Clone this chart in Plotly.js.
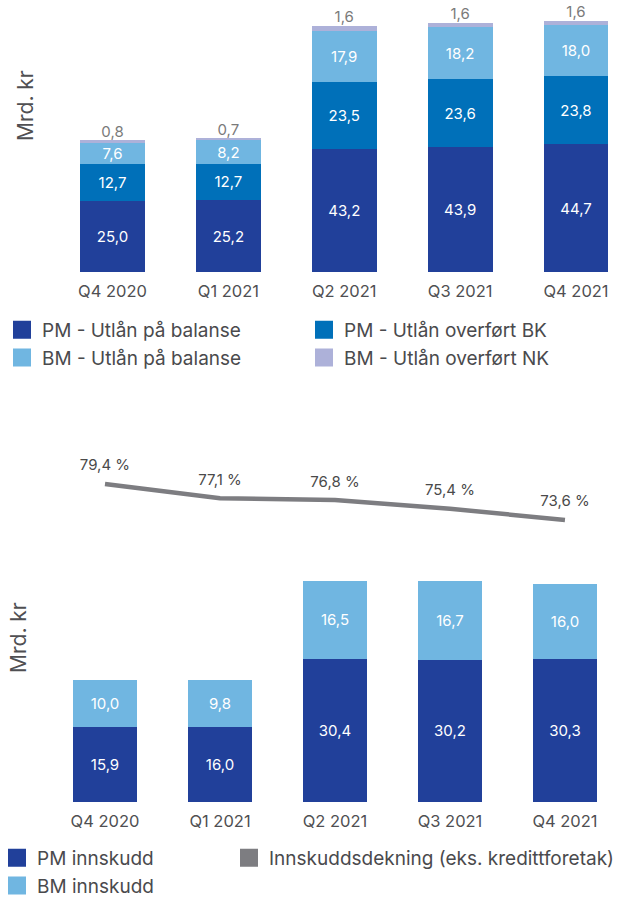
<!DOCTYPE html>
<html>
<head>
<meta charset="utf-8">
<script src="https://cdn.plot.ly/plotly-3.0.1.min.js"></script>
<style>
  html, body { margin: 0; padding: 0; background: #fff; }
  #myDiv { width: 625px; height: 897px; }
</style>
</head>
<body>
<div id="myDiv"></div>
<script>
var quarters = ["Q4 2020", "Q1 2021", "Q2 2021", "Q3 2021", "Q4 2021"];

// utlån (mrd. kr)
var pmBalanse = [25.0, 25.2, 43.2, 43.9, 44.7];
var pmOverfortBK = [12.7, 12.7, 23.5, 23.6, 23.8];
var bmBalanse = [7.6, 8.2, 17.9, 18.2, 18.0];
var bmOverfortNK = [0.8, 0.7, 1.6, 1.6, 1.6];

// innskudd (mrd. kr)
var pmInnskudd = [15.9, 16.0, 30.4, 30.2, 30.3];
var bmInnskudd = [10.0, 9.8, 16.5, 16.7, 16.0];

// innskuddsdekning (%)
var dekning = [79.4, 77.1, 76.8, 75.4, 73.6];

var cDark = "#21409a", cMid = "#0070b9", cLight = "#70b6e1", cLav = "#adb1d9", cGrey = "#7d7d81";
var fontFam = "Inter, 'Open Sans', sans-serif";

var fmt = function(v) { return v.toFixed(1).replace(".", ","); };

var barTrace = function(vals, name, color, xa, ya, pos) {
  return {
    type: "bar", x: quarters, y: vals, name: name,
    xaxis: xa, yaxis: ya,
    marker: {color: color},
    text: vals.map(fmt),
    textposition: pos,
    insidetextanchor: "middle",
    constraintext: "none",
    textfont: {family: fontFam, size: 15, color: "#fff"},
    showlegend: false,
    hoverinfo: "skip"
  };
};

// stack tops for the small NK labels
var utlanTotal = quarters.map(function(q, i) {
  return pmBalanse[i] + pmOverfortBK[i] + bmBalanse[i] + bmOverfortNK[i];
});

// legend proxies (bigger squares than bar legend symbols)
var legendItem = function(name, color, legend) {
  return {
    type: "scatter", mode: "markers", x: [null], y: [null], name: name,
    legend: legend, xaxis: "x", yaxis: "y",
    marker: {symbol: "square", size: 16, color: color, line: {color: color, width: 2}}
  };
};

var data = [
  barTrace(pmBalanse, "PM - Utlån på balanse", cDark, "x", "y", "inside"),
  barTrace(pmOverfortBK, "PM - Utlån overført BK", cMid, "x", "y", "inside"),
  barTrace(bmBalanse, "BM - Utlån på balanse", cLight, "x", "y", "inside"),
  barTrace(bmOverfortNK, "BM - Utlån overført NK", cLav, "x", "y", "none"),
  {
    type: "scatter", mode: "text", x: quarters, y: utlanTotal,
    xaxis: "x", yaxis: "y",
    text: bmOverfortNK.map(fmt),
    textposition: "top center",
    marker: {size: 1},
    textfont: {family: fontFam, size: 15, color: "#7a7a7a"},
    cliponaxis: false, showlegend: false, hoverinfo: "skip"
  },
  barTrace(pmInnskudd, "PM innskudd", cDark, "x2", "y2", "inside"),
  barTrace(bmInnskudd, "BM innskudd", cLight, "x2", "y2", "inside"),
  {
    type: "scatter", mode: "lines+markers+text", x: quarters, y: dekning,
    xaxis: "x2", yaxis: "y3",
    line: {color: cGrey, width: 4.5},
    marker: {size: 14, color: "rgba(0,0,0,0)"},
    text: dekning.map(function(v) { return fmt(v) + " %"; }),
    textposition: "top center",
    textfont: {family: fontFam, size: 15, color: "#4a4a4a"},
    cliponaxis: false,
    showlegend: false,
    hoverinfo: "skip"
  },
  legendItem("PM - Utlån på balanse", cDark, "legend"),
  legendItem("PM - Utlån overført BK", cMid, "legend"),
  legendItem("BM - Utlån på balanse", cLight, "legend"),
  legendItem("BM - Utlån overført NK", cLav, "legend"),
  legendItem("PM innskudd", cDark, "legend2"),
  legendItem("BM innskudd", cLight, "legend2"),
  legendItem("Innskuddsdekning (eks. kredittforetak)", cGrey, "legend3")
];

var H = 897;
var py = function(px) { return 1 - px / H; };

var xCommon = {
  type: "category", showgrid: false, zeroline: false, showline: false,
  ticks: "", ticklabelstandoff: 7,
  tickfont: {family: fontFam, size: 16.5, color: "#4f4f52"}
};
var yHidden = {
  showgrid: false, zeroline: false, showline: false, showticklabels: false, ticks: ""
};

var legendFont = {family: fontFam, size: 19, color: "#4a4a4d"};
var titleFont = {family: fontFam, size: 21, color: "#4f4f52"};

var layout = {
  width: 625, height: 897,
  margin: {l: 0, r: 0, t: 0, b: 0, autoexpand: false},
  paper_bgcolor: "#fff", plot_bgcolor: "#fff",
  barmode: "stack", bargap: 0.44,
  font: {family: fontFam, color: "#4a4a4a"},
  xaxis: Object.assign({}, xCommon, {domain: [0, 1], range: [-0.971, 4.423], anchor: "y"}),
  yaxis: Object.assign({}, yHidden, {domain: [py(272), 1], range: [0, 95.3], anchor: "x"}),
  xaxis2: Object.assign({}, xCommon, {domain: [0, 1], range: [-0.913, 4.522], anchor: "y2"}),
  yaxis2: Object.assign({}, yHidden, {domain: [py(802), py(560)], range: [0, 51.3], anchor: "x2"}),
  yaxis3: Object.assign({}, yHidden, {domain: [py(540), py(450)], range: [70.36, 84.88], anchor: "x2"}),
  legend: {
    orientation: "h", traceorder: "normal",
    x: 2 / 625, xanchor: "left", y: py(311), yanchor: "top",
    entrywidth: 257, entrywidthmode: "pixels",
    font: legendFont, bgcolor: "rgba(0,0,0,0)"
  },
  legend2: {
    orientation: "v", traceorder: "normal",
    x: -3 / 625, xanchor: "left", y: py(839), yanchor: "top",
    font: legendFont, bgcolor: "rgba(0,0,0,0)"
  },
  legend3: {
    orientation: "v",
    x: 229 / 625, xanchor: "left", y: py(839), yanchor: "top",
    font: legendFont, bgcolor: "rgba(0,0,0,0)"
  },
  annotations: [
    {text: "Mrd. kr", xref: "paper", yref: "paper", x: 25 / 625, y: py(106),
     xanchor: "center", yanchor: "middle",
     textangle: -90, showarrow: false, font: titleFont},
    {text: "Mrd. kr", xref: "paper", yref: "paper", x: 18 / 625, y: py(638),
     xanchor: "center", yanchor: "middle",
     textangle: -90, showarrow: false, font: titleFont}
  ],
  showlegend: true
};

Plotly.newPlot("myDiv", data, layout, {displayModeBar: false, staticPlot: true});
</script>
</body>
</html>
